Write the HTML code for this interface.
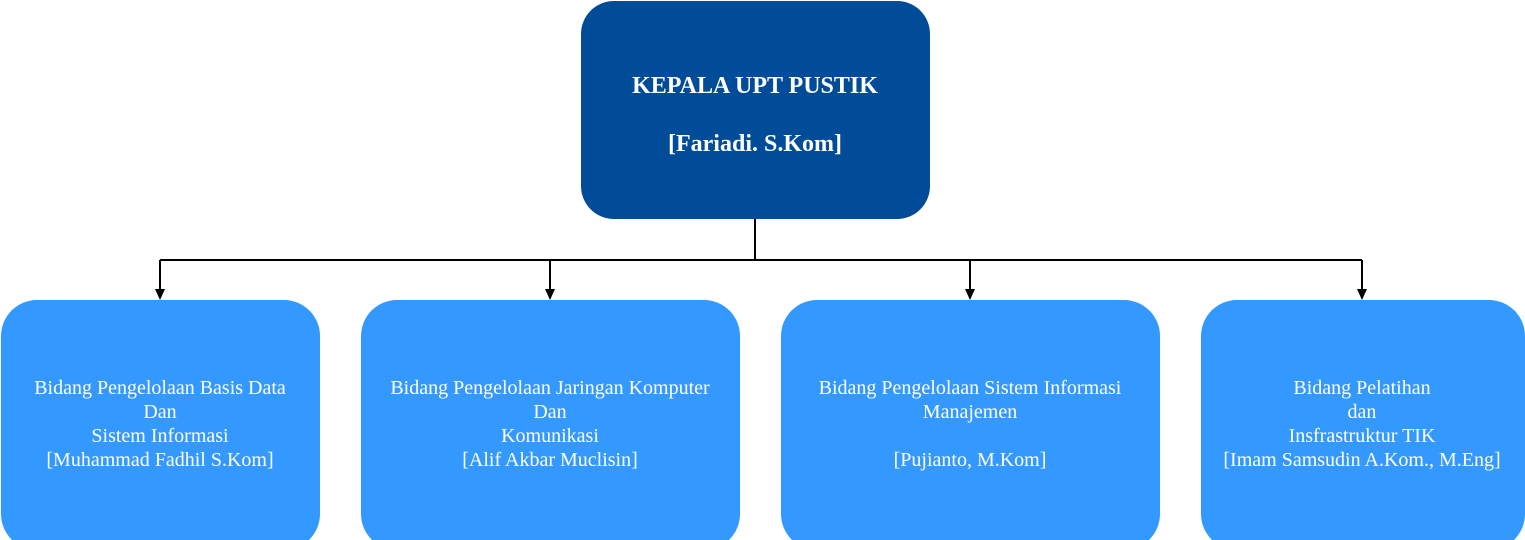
<!DOCTYPE html>
<html><head><meta charset="utf-8"><style>
html,body{margin:0;padding:0;background:#fff;width:1525px;height:540px;overflow:hidden}
</style></head><body>
<svg width="1525" height="540" xmlns="http://www.w3.org/2000/svg" font-family="Liberation Serif, serif">
<rect x="581" y="1" width="349" height="218" rx="33" fill="#004C99"/>
<text x="755" y="93" text-anchor="middle" fill="#fff" font-size="24" font-weight="bold">KEPALA UPT PUSTIK</text>
<text x="755" y="151" text-anchor="middle" fill="#fff" font-size="24" font-weight="bold">[Fariadi. S.Kom]</text>
<g stroke="#000" stroke-width="2" fill="none">
<path d="M755 219V260M160 260H1362M160 260V292M550 260V292M970 260V292M1362 260V292"/>
</g>
<g fill="#000">
<path d="M155 289L160 300L165 289Z"/><path d="M545 289L550 300L555 289Z"/>
<path d="M965 289L970 300L975 289Z"/><path d="M1357 289L1362 300L1367 289Z"/>
</g>
<g fill="#3399FF">
<rect x="1" y="300" width="319" height="250" rx="36"/>
<rect x="361" y="300" width="379" height="250" rx="36"/>
<rect x="781" y="300" width="379" height="250" rx="36"/>
<rect x="1201" y="300" width="324" height="250" rx="36"/>
</g>
<g fill="#fff" font-size="20" text-anchor="middle">
<text x="160" y="394">Bidang Pengelolaan Basis Data</text>
<text x="160" y="418">Dan</text>
<text x="160" y="442">Sistem Informasi</text>
<text x="160" y="466">[Muhammad Fadhil S.Kom]</text>
<text x="550" y="394">Bidang Pengelolaan Jaringan Komputer</text>
<text x="550" y="418">Dan</text>
<text x="550" y="442">Komunikasi</text>
<text x="550" y="466">[Alif Akbar Muclisin]</text>
<text x="970" y="394">Bidang Pengelolaan Sistem Informasi</text>
<text x="970" y="418">Manajemen</text>
<text x="970" y="466">[Pujianto, M.Kom]</text>
<text x="1362" y="394">Bidang Pelatihan</text>
<text x="1362" y="418">dan</text>
<text x="1362" y="442">Insfrastruktur TIK</text>
<text x="1362" y="466">[Imam Samsudin A.Kom., M.Eng]</text>
</g>
</svg>
</body></html>
